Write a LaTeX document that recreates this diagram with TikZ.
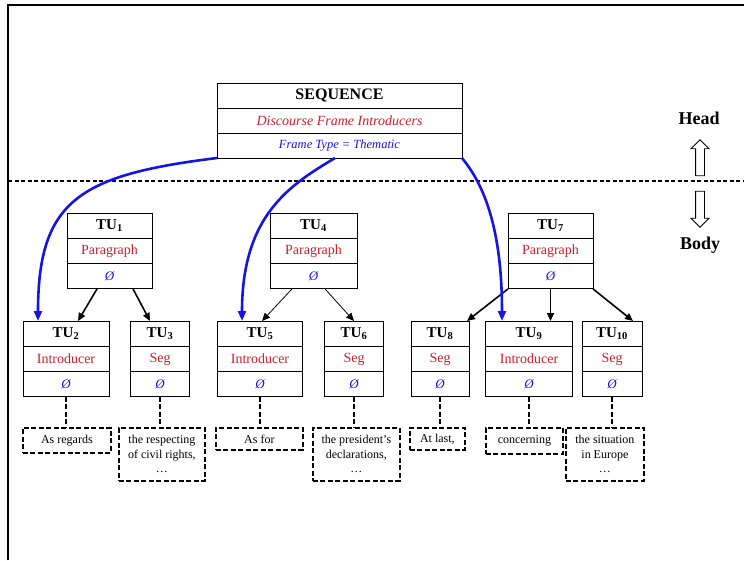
\documentclass[tikz,border=0pt]{standalone}
\usepackage{fontspec}
\setmainfont{Liberation Serif}
\usetikzlibrary{positioning,arrows.meta,shapes.arrows}
\definecolor{typered}{RGB}{204,30,45}
\definecolor{linkblue}{RGB}{20,20,230}

\begin{document}
\begin{tikzpicture}[x=1pt, y=-1pt,
    cell/.style={draw, line width=0.9pt, inner sep=0pt, outer sep=0pt, minimum height=25.3pt},
    tuhead/.style={cell, font=\fontsize{15}{15}\selectfont\bfseries},
    tutype/.style={cell, text=typered, font=\fontsize{14}{14}\selectfont},
    tuval/.style={cell, text=linkblue, font=\fontsize{13}{13}\selectfont\itshape},
    leaf/.style={draw, line width=1.8pt, dash pattern=on 5pt off 2.5pt, inner sep=0pt, anchor=north west, align=center, font=\fontsize{12}{14.5}\selectfont},
    drop/.style={line width=1.8pt, dash pattern=on 5pt off 2.5pt},
    tree/.style={-{Triangle[length=8pt,width=7pt]}, line width=1.6pt},
    link/.style={-{Triangle[length=10pt,width=8pt]}, line width=2.6pt, draw=linkblue},
    hollow/.style={single arrow, draw, line width=0.8pt, inner sep=4pt, single arrow head extend=4.5pt, minimum height=36pt}]
    \useasboundingbox (0,0) rectangle (744,560);

    % Frame and head/body separator
    \draw[line width=2pt] (8,560) -- (8,5) -- (744,5);
    \draw[line width=1.2pt, dash pattern=on 4pt off 2.5pt] (8,181) -- (744,181);
    \node[font=\fontsize{18}{18}\selectfont\bfseries] (head) at (699,118) {Head};
    \node[font=\fontsize{18}{18}\selectfont\bfseries] (body) at (700,245) {Body};
    \node[hollow, shape border rotate=90] (up) at (700,160) {};
    \node[hollow, shape border rotate=270] (down) at (700,207) {};

    % Sequence
    \node[cell, minimum width=245pt, minimum height=25pt, font=\fontsize{16}{16}\selectfont\bfseries, anchor=north] (seq) at (339.5,83) {SEQUENCE};
    \node[cell, minimum width=245pt, minimum height=25pt, text=typered, font=\fontsize{14}{14}\selectfont\itshape, below=0pt of seq] (seq-b) {Discourse Frame Introducers};
    \node[cell, minimum width=245pt, minimum height=25pt, text=linkblue, font=\fontsize{12.5}{12.5}\selectfont\itshape, below=0pt of seq-b] (seq-c) {Frame Type = Thematic};

    % Textual units
    \foreach \n/\x/\y/\w/\t in {1/109.5/213/85/Paragraph, 2/66/321/86/Introducer, 3/160/321/59/Seg,
        4/313.5/213/87/Paragraph, 5/260/321/85/Introducer, 6/354/321/59/Seg,
        7/550.5/213/85/Paragraph, 8/440/321/58/Seg, 9/529/321/87/Introducer, 10/612/321/60/Seg}{
        \node[tuhead, minimum width=\w, anchor=north] (tu\n) at (\x,\y) {TU\textsubscript{\n}};
        \node[tutype, minimum width=\w, below=0pt of tu\n] (tu\n-t) {\t};
        \node[tuval, minimum width=\w, below=0pt of tu\n-t] (tu\n-v) {Ø};
    }

    % Text segments
    \node[leaf, minimum width=88pt, minimum height=25pt] (leaf2) at (22,427) {As regards};
    \node[leaf, minimum width=86pt, minimum height=53pt] (leaf3) at (118,427) {the respecting\\of civil rights,\\\ldots};
    \node[leaf, minimum width=87pt, minimum height=22pt] (leaf5) at (215,427) {As for};
    \node[leaf, minimum width=87pt, minimum height=53pt] (leaf6) at (312,427) {the president's\\declarations,\\\ldots};
    \node[leaf, minimum width=55pt, minimum height=22pt] (leaf8) at (409,427) {At last,};
    \node[leaf, minimum width=77pt, minimum height=26pt] (leaf9) at (485,427) {concerning};
    \node[leaf, minimum width=78pt, minimum height=53pt] (leaf10) at (565,427) {the situation\\in Europe\\\ldots};

    \foreach \n in {2,3,5,6,8,9,10}
        \draw[drop] (tu\n-v.south) -- (tu\n-v.south |- leaf\n.north);

    % Tree arrows
    \draw[tree] ([xshift=-12.5pt]tu1-v.south) -- ([xshift=12pt]tu2.north);
    \draw[tree] ([xshift=23.5pt]tu1-v.south) -- ([xshift=-10pt]tu3.north);
    \draw[tree, line width=0.8pt] ([xshift=-21.5pt]tu4-v.south) -- ([xshift=2pt]tu5.north);
    \draw[tree, line width=0.8pt] ([xshift=11.5pt]tu4-v.south) -- (tu6.north);
    \draw[tree] (tu7-v.south west) -- ([xshift=27pt]tu8.north);
    \draw[tree] (tu7-v.south) -- (tu7-v.south |- tu9.north);
    \draw[tree] (tu7-v.south east) -- ([xshift=21pt]tu10.north);

    % Frame links
    \draw[link] (seq-c.south west) .. controls (80,175) and (38,200) .. ([xshift=-28pt]tu2.north);
    \draw[link] ([xshift=-4.5pt]seq-c.south) .. controls (290,185) and (242,215) .. ([xshift=-18pt]tu5.north);
    \draw[link] (seq-c.south east) .. controls (480,180) and (502,220) .. ([xshift=-27pt]tu9.north);
\end{tikzpicture}
\end{document}
